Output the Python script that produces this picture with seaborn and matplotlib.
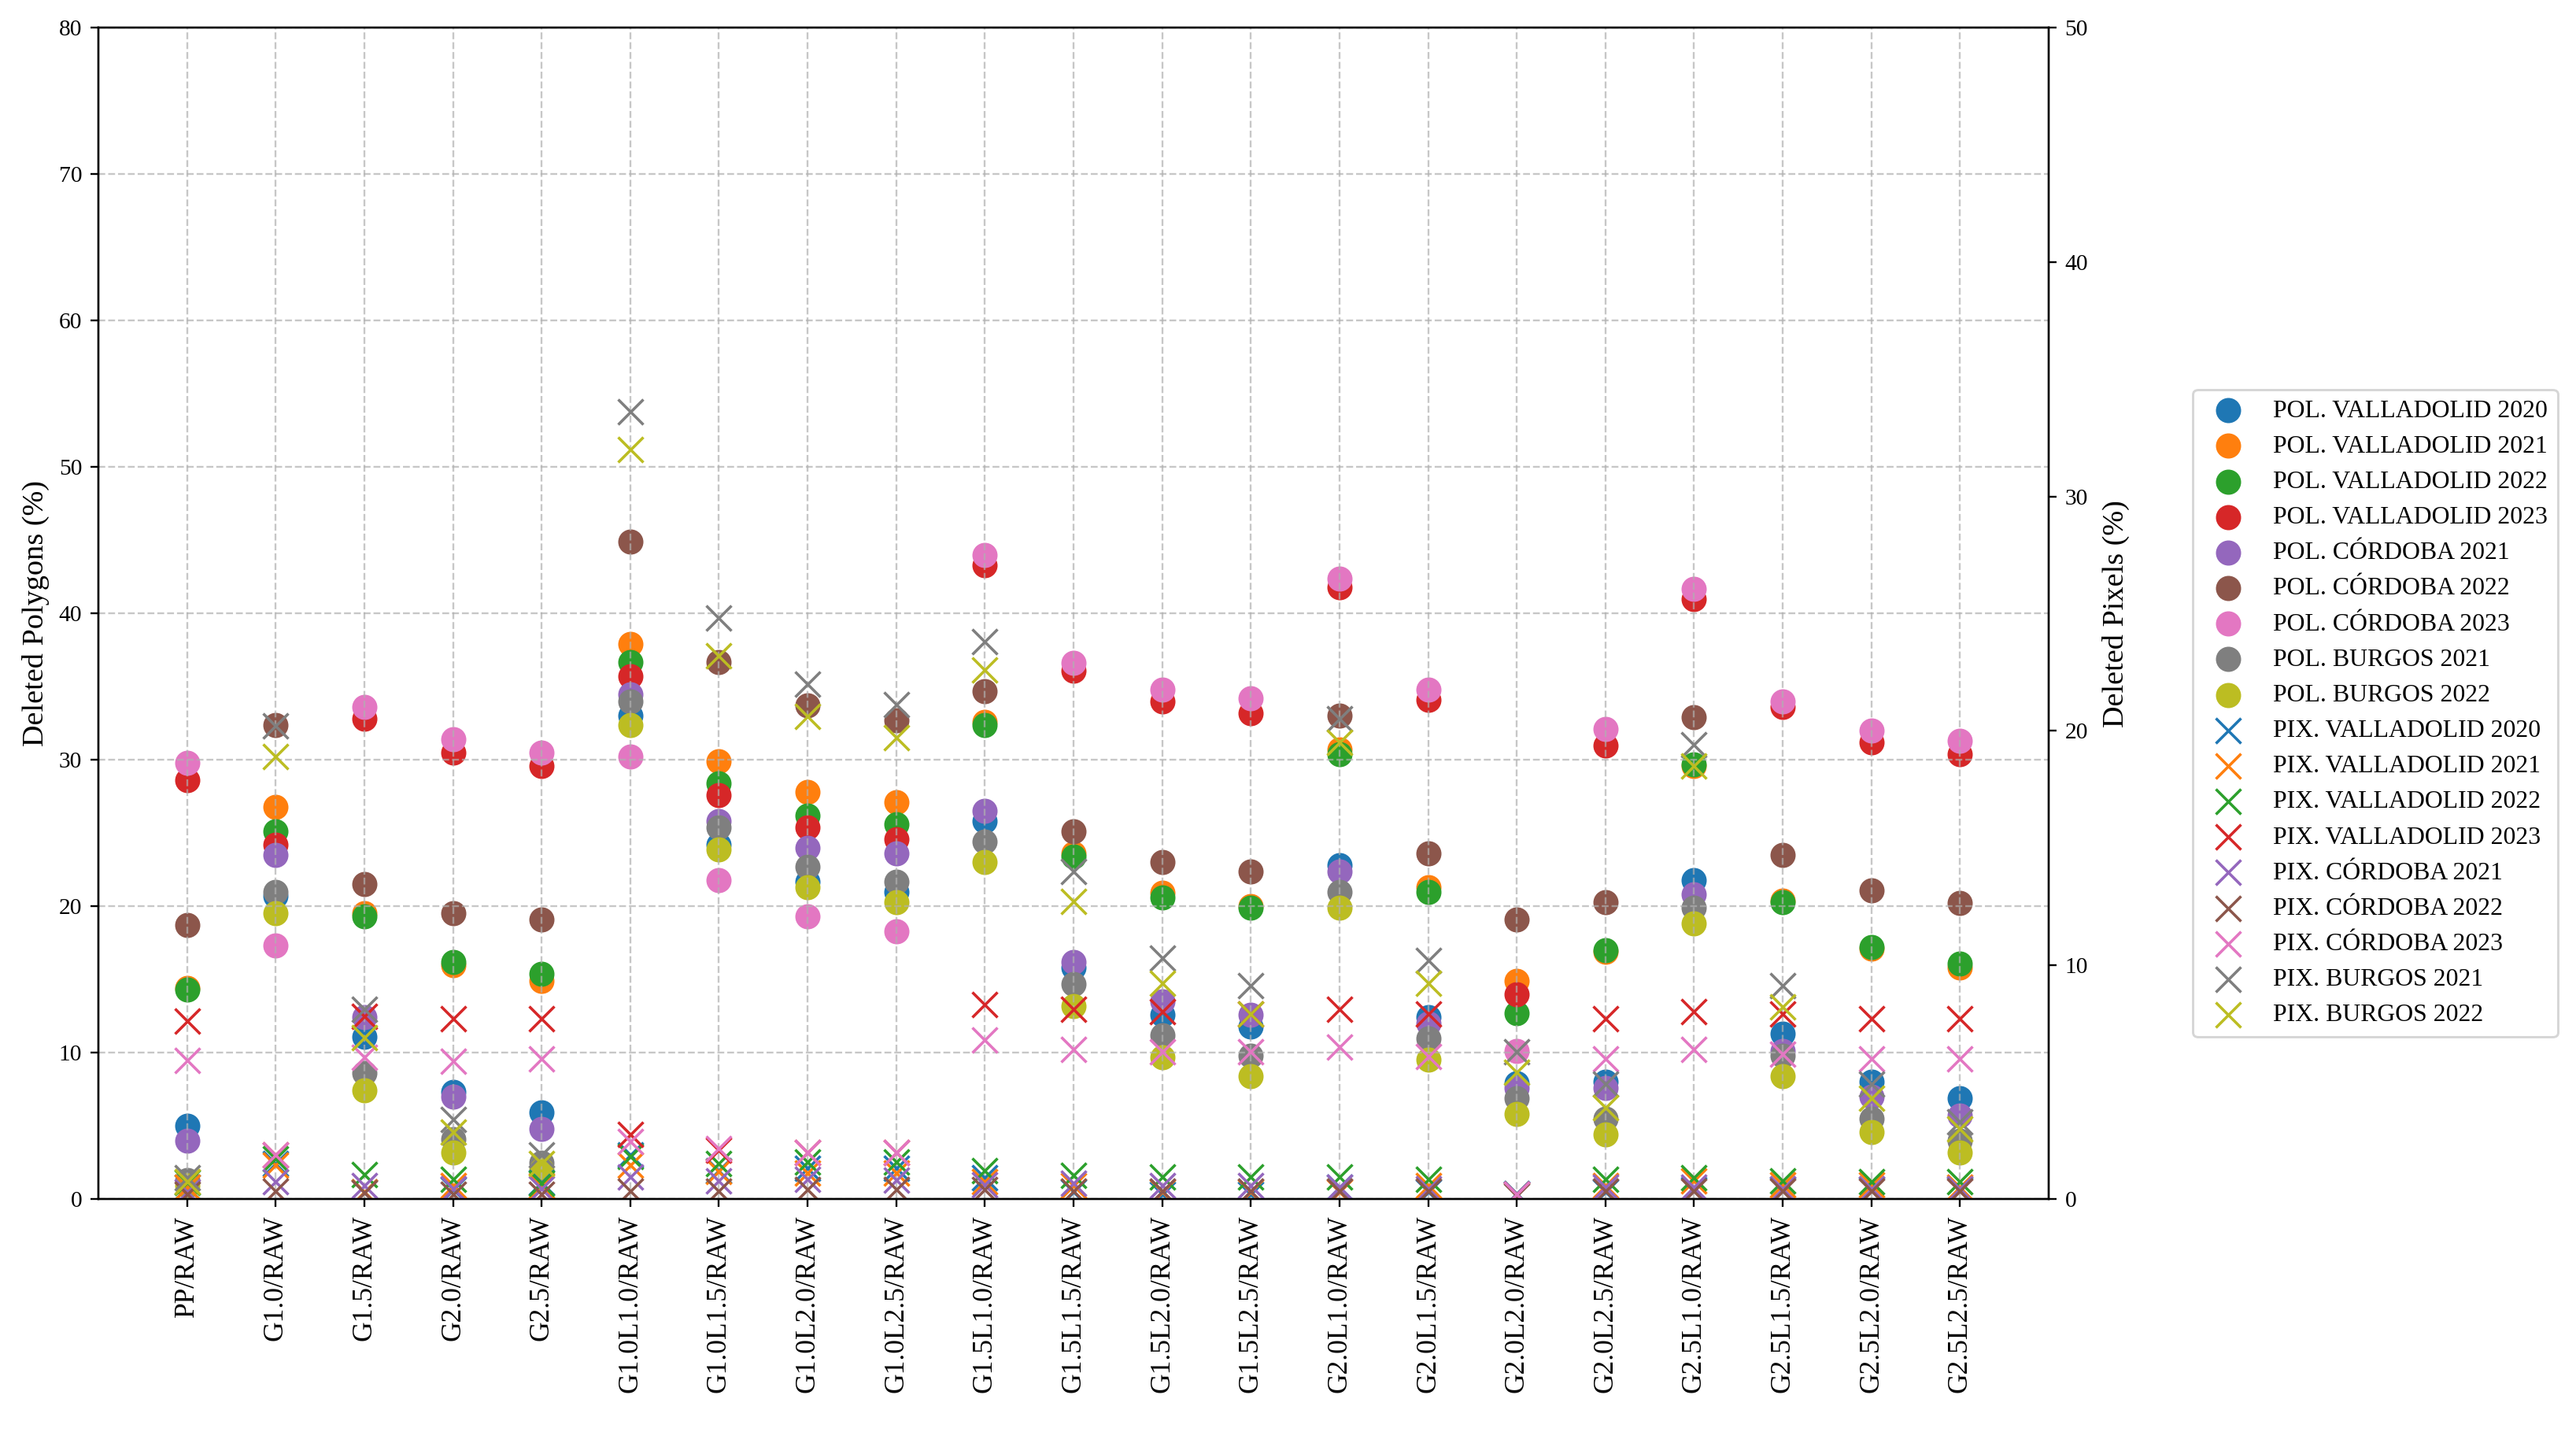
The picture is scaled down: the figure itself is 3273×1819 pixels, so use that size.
import matplotlib
matplotlib.use('Agg')
import matplotlib.pyplot as plt
import seaborn as sns

categories = ['PP/RAW', 'G1.0/RAW', 'G1.5/RAW', 'G2.0/RAW', 'G2.5/RAW',
              'G1.0L1.0/RAW', 'G1.0L1.5/RAW', 'G1.0L2.0/RAW', 'G1.0L2.5/RAW',
              'G1.5L1.0/RAW', 'G1.5L1.5/RAW', 'G1.5L2.0/RAW', 'G1.5L2.5/RAW',
              'G2.0L1.0/RAW', 'G2.0L1.5/RAW', 'G2.0L2.0/RAW', 'G2.0L2.5/RAW',
              'G2.5L1.0/RAW', 'G2.5L1.5/RAW', 'G2.5L2.0/RAW', 'G2.5L2.5/RAW']

series_names = ['VALLADOLID 2020', 'VALLADOLID 2021', 'VALLADOLID 2022', 'VALLADOLID 2023',
                'CÓRDOBA 2021', 'CÓRDOBA 2022', 'CÓRDOBA 2023', 'BURGOS 2021', 'BURGOS 2022']

# deleted polygons (%), left axis
pol_valladolid_2020 = [5.0, 20.7, 11.1, 7.3, 5.9, 33.0, 24.2, 21.7, 21.0, 25.8, 15.8,
                       12.6, 11.8, 22.8, 12.4, 7.9, 8.0, 21.8, 11.3, 8.0, 6.9]
pol_valladolid_2021 = [14.4, 26.8, 19.5, 16.0, 14.9, 37.9, 29.9, 27.8, 27.1, 32.6, 23.6,
                       20.9, 20.0, 30.7, 21.3, 14.9, 16.9, 29.6, 20.4, 17.1, 15.8]
pol_valladolid_2022 = [14.3, 25.1, 19.3, 16.2, 15.4, 36.7, 28.4, 26.2, 25.6, 32.4, 23.4,
                       20.6, 19.9, 30.4, 21.0, 12.7, 17.0, 29.7, 20.3, 17.2, 16.1]
pol_valladolid_2023 = [28.6, 24.2, 32.8, 30.5, 29.6, 35.7, 27.6, 25.4, 24.6, 43.3, 36.1,
                       34.0, 33.2, 41.8, 34.1, 14.0, 31.0, 41.0, 33.6, 31.2, 30.4]
pol_cordoba_2021 = [4.0, 23.5, 12.4, 7.0, 4.8, 34.5, 25.8, 24.0, 23.6, 26.5, 16.2,
                    13.5, 12.6, 22.4, 12.0, 7.6, 7.6, 20.8, 10.1, 7.0, 5.7]
pol_cordoba_2022 = [18.7, 32.4, 21.5, 19.5, 19.1, 44.9, 36.7, 33.7, 32.7, 34.7, 25.1,
                    23.0, 22.4, 33.0, 23.6, 19.1, 20.3, 32.9, 23.5, 21.1, 20.2]
pol_cordoba_2023 = [29.8, 17.3, 33.6, 31.4, 30.5, 30.2, 21.8, 19.3, 18.3, 44.0, 36.6,
                    34.8, 34.2, 42.4, 34.8, 10.1, 32.1, 41.7, 34.0, 32.0, 31.3]
pol_burgos_2021 = [1.3, 21.0, 8.6, 4.1, 2.5, 34.0, 25.4, 22.7, 21.7, 24.4, 14.7,
                   11.2, 9.8, 21.0, 11.0, 6.9, 5.5, 19.9, 9.8, 5.5, 4.0]
pol_burgos_2022 = [0.9, 19.5, 7.4, 3.2, 2.0, 32.4, 23.9, 21.3, 20.3, 23.0, 13.2,
                   9.7, 8.4, 19.9, 9.5, 5.8, 4.4, 18.8, 8.4, 4.6, 3.2]

# deleted pixels (%), right axis
pix_valladolid_2020 = [0.5, 1.5, 0.3, 0.4, 0.7, 1.9, 1.2, 1.3, 1.3, 0.9, 0.3,
                       0.2, 0.2, 0.5, 0.3, 0.25, 0.3, 0.4, 0.4, 0.4, 0.4]
pix_valladolid_2021 = [0.5, 1.45, 0.3, 0.56, 0.56, 1.45, 1.18, 1.12, 1.1, 0.73, 0.56,
                       0.3, 0.3, 0.3, 0.56, 0.2, 0.56, 0.78, 0.6, 0.6, 0.5]
pix_valladolid_2022 = [0.7, 1.7, 1.06, 0.84, 0.67, 1.8, 1.51, 1.57, 1.57, 1.2, 1.0,
                       0.95, 0.95, 0.95, 0.84, 0.2, 0.84, 0.9, 0.78, 0.73, 0.73]
pix_valladolid_2023 = [7.6, 1.9, 7.8, 7.7, 7.7, 2.75, 2.1, 2.0, 2.0, 8.3, 8.1,
                       8.0, 7.9, 8.1, 7.9, 0.2, 7.7, 8.0, 7.9, 7.7, 7.7]
pix_cordoba_2021 = [0.3, 0.75, 0.56, 0.45, 0.45, 0.95, 0.78, 0.84, 0.8, 0.6, 0.67,
                    0.56, 0.56, 0.5, 0.45, 0.2, 0.5, 0.5, 0.45, 0.45, 0.45]
pix_cordoba_2022 = [0.22, 0.34, 0.28, 0.22, 0.22, 0.34, 0.34, 0.39, 0.4, 0.4, 0.34,
                    0.34, 0.34, 0.34, 0.34, 0.15, 0.34, 0.34, 0.34, 0.34, 0.34]
pix_cordoba_2023 = [5.93, 1.9, 6.05, 5.88, 6.0, 2.45, 2.15, 2.0, 2.0, 6.8, 6.4,
                    6.3, 6.3, 6.5, 6.1, 0.2, 6.0, 6.4, 6.2, 6.0, 6.0]
pix_burgos_2021 = [0.9, 20.2, 8.1, 3.4, 1.9, 33.6, 24.8, 22.0, 21.1, 23.8, 14.0,
                   10.3, 9.1, 20.5, 10.2, 6.3, 4.9, 19.4, 9.1, 4.9, 3.3]
pix_burgos_2022 = [0.75, 18.9, 6.9, 2.86, 1.5, 32.0, 23.2, 20.6, 19.7, 22.6, 12.7,
                   9.2, 7.9, 19.5, 9.2, 5.4, 3.9, 18.5, 8.2, 4.3, 3.0]

pol_series = [pol_valladolid_2020, pol_valladolid_2021, pol_valladolid_2022, pol_valladolid_2023,
              pol_cordoba_2021, pol_cordoba_2022, pol_cordoba_2023, pol_burgos_2021, pol_burgos_2022]
pix_series = [pix_valladolid_2020, pix_valladolid_2021, pix_valladolid_2022, pix_valladolid_2023,
              pix_cordoba_2021, pix_cordoba_2022, pix_cordoba_2023, pix_burgos_2021, pix_burgos_2022]

plt.rcParams['font.family'] = ['Liberation Serif', 'DejaVu Serif']

DPI = 212
fig, ax = plt.subplots(figsize=(3273 / DPI, 1819 / DPI), dpi=DPI)
fig.subplots_adjust(left=0.0382, right=0.7953, bottom=0.1627, top=0.9805)
ax2 = ax.twinx()
palette = sns.color_palette('tab10', len(series_names))

for name, values, color in zip(series_names, pol_series, palette):
    sns.scatterplot(x=categories, y=values, ax=ax, color=color, marker='o',
                    s=118, linewidth=0, label='POL. ' + name, legend=False)

for name, values, color in zip(series_names, pix_series, palette):
    sns.scatterplot(x=categories, y=values, ax=ax2, color=color, marker='x',
                    s=118, linewidth=1.2, label='PIX. ' + name, legend=False)

ax.set_xlim(-1, len(categories))
ax.set_ylim(0, 80)
ax2.set_ylim(0, 50)
ax.set_yticks(range(0, 81, 10))
ax2.set_yticks(range(0, 51, 10))
ax.grid(True, linestyle='--', alpha=0.7)
ax.set_ylabel('Deleted Polygons (%)', fontsize=13)
ax2.set_ylabel('Deleted Pixels (%)', fontsize=13, labelpad=6)
ax.set_xlabel('')
ax.tick_params(axis='x', labelrotation=90, labelsize=12)
ax.tick_params(axis='y', labelsize=10)
ax2.tick_params(axis='y', labelsize=10)

h1, l1 = ax.get_legend_handles_labels()
h2, l2 = ax2.get_legend_handles_labels()
fig.legend(h1 + h2, l1 + l2, loc='center left', bbox_to_anchor=(0.8464, 0.502), fontsize=10.8)

fig.savefig('out.png', dpi=DPI)
